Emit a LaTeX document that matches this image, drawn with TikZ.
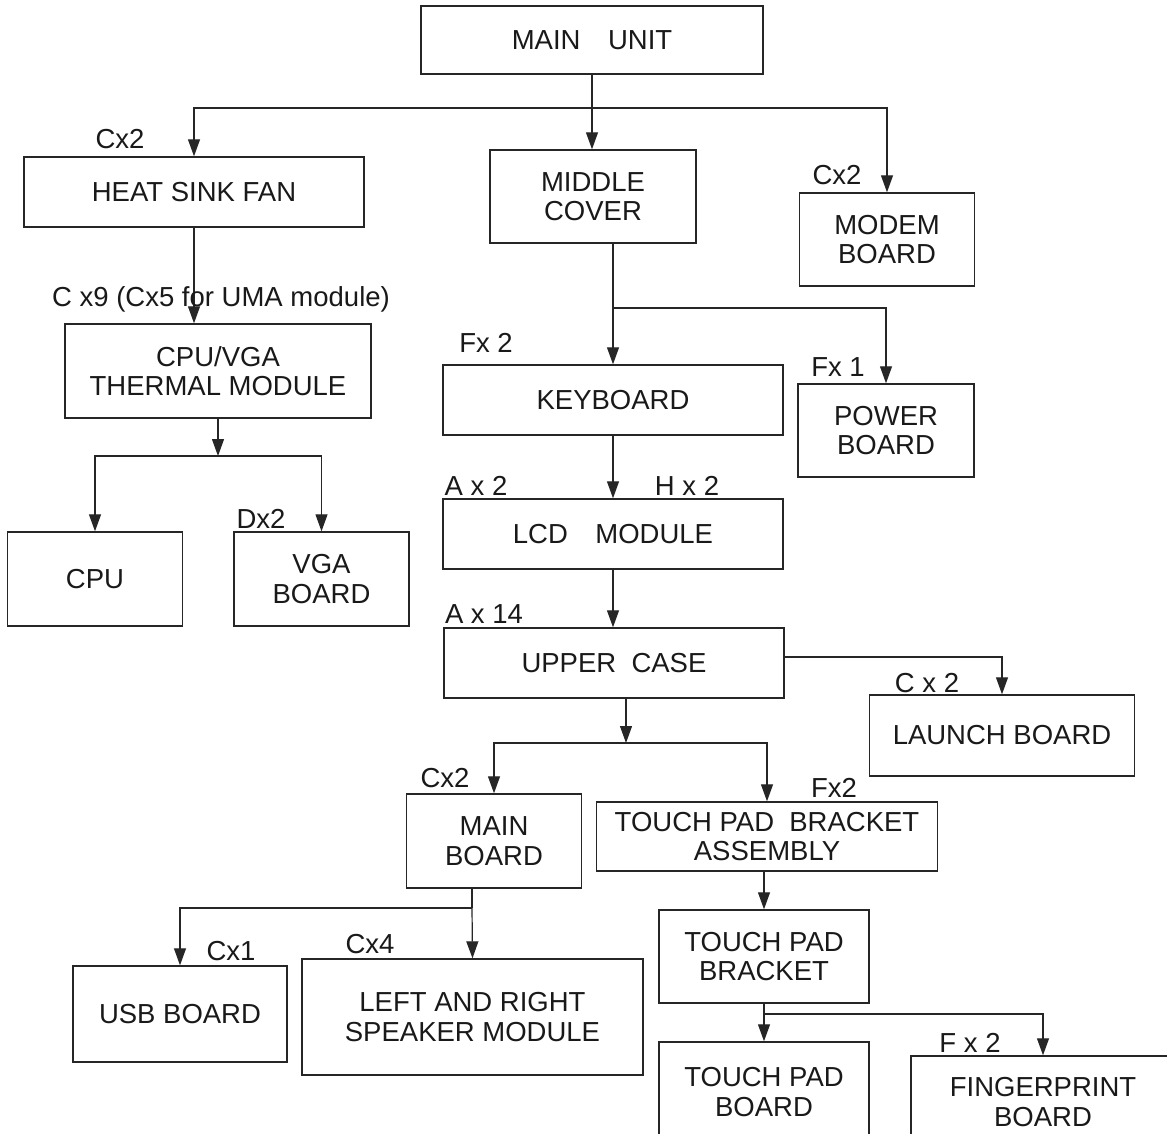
\documentclass[tikz,border=0pt]{standalone}
\usepackage{fontspec}
\setmainfont{Liberation Sans}
\usetikzlibrary{arrows.meta, positioning, calc}
\tikzset{
  part/.style = {rectangle, draw=black!85, line width=1.4pt, inner sep=0pt,
                 align=center, text=black!90,
                 font=\fontsize{27.5}{29.5}\selectfont},
  qty/.style  = {anchor=base, inner sep=0pt, text=black!90,
                 font=\fontsize{27.5}{29.5}\selectfont},
  arr/.style  = {-{Triangle[length=17pt,width=12pt]}, line width=1.2pt,
                 color=black!85},
  lnk/.style  = {line width=1.2pt, color=black!85},
}

\begin{document}
\begin{tikzpicture}[x=1pt, y=-1pt]
  \useasboundingbox (0,0) rectangle (1167,1134);
  \clip (0,0) rectangle (1167,1134);

  % parts
  \node[part, minimum width=342pt, minimum height=68pt] (unit)    at (592,40)    {MAIN\quad UNIT};
  \node[part, minimum width=340pt, minimum height=70pt] (fan)     at (194,192)   {HEAT SINK FAN};
  \node[part, minimum width=206pt, minimum height=93pt] (mid)     at (593,196.5) {MIDDLE\\COVER};
  \node[part, minimum width=175pt, minimum height=93pt] (modem)   at (887,239.5) {MODEM\\BOARD};
  \node[part, minimum width=306pt, minimum height=94pt] (thermal) at (218,371)   {CPU/VGA\\THERMAL MODULE};
  \node[part, minimum width=175pt, minimum height=94pt] (cpu)     at (95,579)    {CPU};
  \node[part, minimum width=175pt, minimum height=94pt] (vga)     at (321.5,579) {VGA\\BOARD};
  \node[part, minimum width=340pt, minimum height=70pt] (kbd)     at (613,400)   {KEYBOARD};
  \node[part, minimum width=176pt, minimum height=93pt] (power)   at (886,430.5) {POWER\\BOARD};
  \node[part, minimum width=340pt, minimum height=70pt] (lcd)     at (613,534)   {LCD\quad MODULE};
  \node[part, minimum width=340pt, minimum height=70pt] (upper)   at (614,663)   {UPPER\ \ CASE};
  \node[part, minimum width=265pt, minimum height=81pt] (launch)  at (1002,735.5){LAUNCH BOARD};
  \node[part, minimum width=175pt, minimum height=94pt] (mb)      at (494,841)   {MAIN\\BOARD};
  \node[part, minimum width=341pt, minimum height=69pt] (tpba)    at (767,836.5) {TOUCH PAD\ \ BRACKET\\ASSEMBLY};
  \node[part, minimum width=210pt, minimum height=93pt] (tpb)     at (764,956.5) {TOUCH PAD\\BRACKET};
  \node[part, minimum width=210pt, minimum height=100pt] (tpboard) at (764,1092) {TOUCH PAD\\BOARD};
  \node[part, minimum width=264pt, minimum height=92pt] (fpr)     at (1043,1102) {FINGERPRINT\\BOARD};
  \node[part, minimum width=214pt, minimum height=96pt] (usb)     at (180,1014)  {USB BOARD};
  \node[part, minimum width=341pt, minimum height=116pt] (spk)    at (472.5,1017){LEFT AND RIGHT\\SPEAKER MODULE};

  % connectors
  \coordinate (j1) at (592,108);
  \draw[arr] (unit.south) -- (unit.south |- mid.north);
  \draw[arr] (j1) -| (fan.north);
  \draw[arr] (j1) -| (modem.north);
  \draw[arr] (fan.south) -- (fan.south |- thermal.north);

  \coordinate (j2) at (218,456);
  \draw[arr] (thermal.south) -- (j2);
  \draw[arr] (j2) -| (cpu.north);
  \draw[arr] (j2) -| (vga.north);

  \coordinate (j3) at (613,308);
  \draw[lnk] (mid.south -| j3) -- (j3);
  \draw[arr] (j3) -- (kbd.north);
  \draw[arr] (j3) -| (power.north);
  \draw[arr] (kbd.south) -- (lcd.north);
  \draw[arr] (lcd.south) -- (lcd.south |- upper.north);
  \draw[arr] ([yshift=6pt]upper.east) -| (launch.north);

  \coordinate (j4) at (626,743);
  \draw[arr] (upper.south -| j4) -- (j4);
  \draw[arr] (j4) -| (mb.north);
  \draw[arr] (j4) -| (tpba.north);
  \draw[arr] (tpba.south -| tpb.north) -- (tpb.north);

  \coordinate (j5) at (764,1014);
  \draw[lnk] (tpb.south) -- (j5);
  \draw[arr] (j5) -- (tpboard.north);
  \draw[arr] (j5) -| (fpr.north);

  \coordinate (j6) at (472,908);
  \draw[lnk] (mb.south -| j6) -- (j6);
  \draw[arr] (j6) -- (spk.north);
  \draw[arr] (j6) -| (usb.north);

  % screw counts
  \node[qty] (q1)  at (120,149)  {Cx2};
  \node[qty] (q2)  at (221,306)  {C x9 (Cx5 for UMA module)};
  \node[qty] (q3)  at (837,185)  {Cx2};
  \node[qty] (q4)  at (486,352)  {Fx 2};
  \node[qty] (q5)  at (838,376)  {Fx 1};
  \node[qty] (q6)  at (476,495)  {A x 2};
  \node[qty] (q7)  at (687,495)  {H x 2};
  \node[qty] (q8)  at (484,623)  {A x 14};
  \node[qty] (q9)  at (927,692)  {C x 2};
  \node[qty] (q10) at (445,787)  {Cx2};
  \node[qty] (q11) at (834,797)  {Fx2};
  \node[qty] (q12) at (970,1052) {F x 2};
  \node[qty] (q13) at (231,960)  {Cx1};
  \node[qty] (q14) at (370,953)  {Cx4};
  \node[qty] (q15) at (261,528)  {Dx2};
\end{tikzpicture}
\end{document}
